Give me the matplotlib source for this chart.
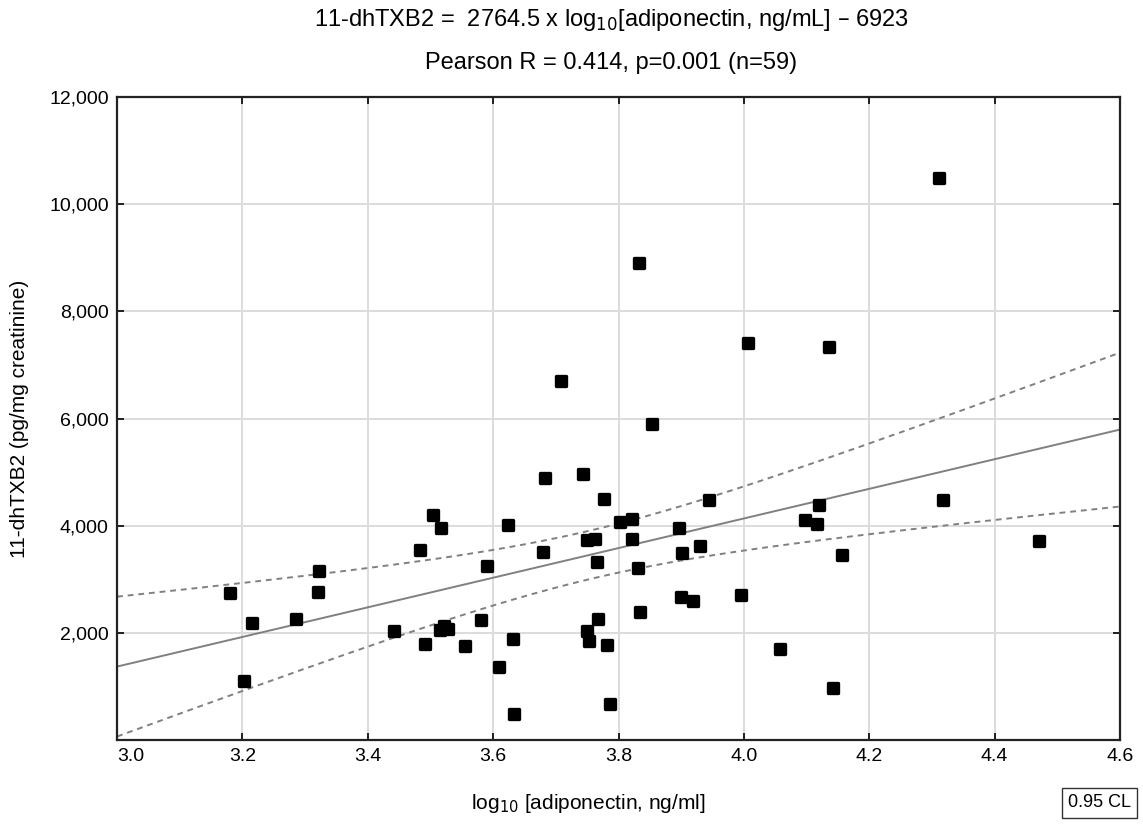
import numpy as np
import matplotlib
matplotlib.use("Agg")
import matplotlib.pyplot as plt
from matplotlib.markers import MarkerStyle
from matplotlib.ticker import FuncFormatter

plt.rcParams['font.family'] = ['Liberation Sans', 'DejaVu Sans']

# log10 adiponectin (ng/ml)
log_adipo = [3.180, 3.203, 3.216, 3.285, 3.320, 3.322, 3.442, 3.483, 3.491, 3.504,
             3.515, 3.516, 3.522, 3.528, 3.555, 3.580, 3.590, 3.610, 3.623, 3.632,
             3.634, 3.679, 3.683, 3.709, 3.744, 3.749, 3.753, 3.749, 3.763, 3.765,
             3.767, 3.777, 3.782, 3.787, 3.803, 3.821, 3.821, 3.831, 3.834, 3.833,
             3.854, 3.897, 3.900, 3.902, 3.918, 3.930, 3.944, 3.996, 4.007, 4.057,
             4.097, 4.116, 4.120, 4.136, 4.142, 4.157, 4.311, 4.317, 4.471]
# 11-dhTXB2 (pg/mg creatinine)
txb2 = [2750, 1110, 2190, 2250, 2770, 3150, 2030, 3540, 1790, 4200,
        2060, 3950, 2120, 2080, 1750, 2240, 3250, 1360, 4010, 1890,
        480, 3510, 4890, 6700, 4970, 2030, 1840, 3730, 3760, 3320,
        2250, 4505, 1780, 665, 4065, 4120, 3757, 3205, 2390, 8900,
        5900, 3956, 2670, 3490, 2600, 3625, 4475, 2710, 7410, 1705,
        4110, 4040, 4390, 7330, 965, 3460, 10480, 4475, 3705]

slope, intercept = 2764.5, -6923
x_ticks = [3.0, 3.2, 3.4, 3.6, 3.8, 4.0, 4.2, 4.4, 4.6]
y_ticks = [2000, 4000, 6000, 8000, 10000, 12000]

x = np.array(log_adipo)
y = np.array(txb2)
n = len(x)

# regression line and 95% confidence band of the mean
xs = np.linspace(3.0, 4.6, 200)
fit = slope * xs + intercept
resid = y - (slope * x + intercept)
s = np.sqrt(np.sum(resid ** 2) / (n - 2))
sxx = np.sum((x - x.mean()) ** 2)
t = 2.002
band = t * s * np.sqrt(1 / n + (xs - x.mean()) ** 2 / sxx)

fig = plt.figure(figsize=(11.43, 8.25), dpi=100)
ax = fig.add_axes([0.1024, 0.103, 0.8775, 0.7794])

ax.grid(True, color='#dcdcdc', linewidth=1.4)
ax.set_axisbelow(True)

ax.plot(xs, fit, color='#808080', linewidth=1.4)
ax.plot(xs, fit + band, color='#808080', linewidth=1.4, linestyle=(0, (3, 2.5)))
ax.plot(xs, fit - band, color='#808080', linewidth=1.4, linestyle=(0, (3, 2.5)))

mk = MarkerStyle('s', joinstyle='round')
ax.plot(x, y, linestyle='none', marker=mk, markersize=6.8, color='black',
        markeredgewidth=2.4, clip_on=False, zorder=5)

ax.set_xlim(3.0, 4.6)
ax.set_ylim(0, 12000)
ax.set_xticks(x_ticks)
ax.set_yticks(y_ticks)
ax.yaxis.set_major_formatter(FuncFormatter(lambda v, p: f"{int(v):,}"))
ax.xaxis.set_major_formatter(FuncFormatter(lambda v, p: f"{v:.1f}"))
ax.tick_params(direction='in', length=5, width=1.2, labelsize=14, colors='black',
               top=True, right=True, pad=6)
for lab in ax.get_xticklabels()[:1]:
    lab.set_horizontalalignment('left')

for sp in ax.spines.values():
    sp.set_linewidth(1.6)
    sp.set_color('#222222')

ax.set_xlabel("log$_{10}$ [adiponectin, ng/ml]", fontsize=15, va='center')
ax.xaxis.set_label_coords(0.47, -0.098)
ax.set_ylabel("11-dhTXB2 (pg/mg creatinine)", fontsize=15, va='center')
ax.yaxis.set_label_coords(-0.097, 0.5)

fig.text(0.535, 0.976, "11-dhTXB2 =  2764.5 x log$_{10}$[adiponectin, ng/mL] \u2013 6923",
         ha='center', va='center', fontsize=17)
fig.text(0.535, 0.924, "Pearson R = 0.414, p=0.001 (n=59)",
         ha='center', va='center', fontsize=17)

fig.text(0.962, 0.027, "0.95 CL", ha='center', va='center', fontsize=13,
         bbox=dict(boxstyle='square,pad=0.35', facecolor='white',
                   edgecolor='#333333', linewidth=1))

fig.savefig("out.png", dpi=100)
